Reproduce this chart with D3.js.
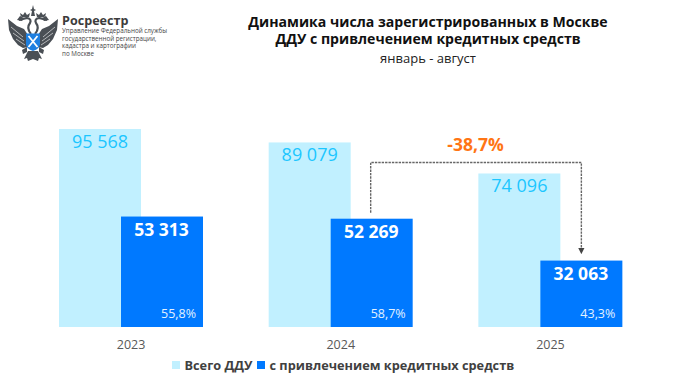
<!doctype html>
<html lang="ru">
<head>
<meta charset="utf-8">
<title>ДДУ Москва</title>
<script src="https://d3js.org/d3.v7.min.js"></script>
<style>
    html, body { margin: 0; padding: 0; background: #fff; }
    svg { display: block; }
    text { font-family: "Open Sans", sans-serif; }
</style>
</head>
<body>
<svg width="680" height="383"></svg>
<script>
    var years = ["2023", "2024", "2025"];
    var totalDdu = [95568, 89079, 74096];
    var creditDdu = [53313, 52269, 32063];
    var totalLabels = ["95 568", "89 079", "74 096"];
    var creditLabels = ["53 313", "52 269", "32 063"];
    var shareLabels = ["55,8%", "58,7%", "43,3%"];
    var legendLabels = ["Всего ДДУ", "с привлечением кредитных средств"];
    var logoLines = ["Управление Федеральной службы", "государственной регистрации,", "кадастра и картографии", "по Москве"];

    var lightBlue = "#c1f0ff", blue = "#0079ff", cyanText = "#1cc6ff";

    var svg = d3.select("svg");
    var baseY = 327, barW = 82, offset = 62;

    var x = d3.scaleBand().domain(years).range([59, 622.5]).paddingInner(0.3126).paddingOuter(0);
    var y = d3.scaleLinear().domain([0, 95568]).range([baseY, 129]);

    // bars
    var g = svg.append("g");
    g.selectAll(".total").data(years).enter().append("rect")
        .attr("class", "total")
        .attr("x", function(d) { return x(d); })
        .attr("y", function(d, i) { return y(totalDdu[i]); })
        .attr("width", barW)
        .attr("height", function(d, i) { return baseY - y(totalDdu[i]); })
        .attr("fill", lightBlue);

    g.selectAll(".credit").data(years).enter().append("rect")
        .attr("class", "credit")
        .attr("x", function(d) { return x(d) + offset; })
        .attr("y", function(d, i) { return y(creditDdu[i]); })
        .attr("width", barW)
        .attr("height", function(d, i) { return baseY - y(creditDdu[i]); })
        .attr("fill", blue);

    // bar labels
    g.selectAll(".totalLabel").data(years).enter().append("text")
        .attr("x", function(d) { return x(d) + barW / 2; })
        .attr("y", function(d, i) { return y(totalDdu[i]) + 18.5; })
        .attr("text-anchor", "middle")
        .attr("font-size", "18px")
        .attr("fill", cyanText)
        .text(function(d, i) { return totalLabels[i]; });

    g.selectAll(".creditLabel").data(years).enter().append("text")
        .attr("x", function(d) { return x(d) + offset + barW / 2 - 0.5; })
        .attr("y", function(d, i) { return y(creditDdu[i]) + 19; })
        .attr("text-anchor", "middle")
        .attr("font-size", "17.5px")
        .attr("font-weight", 700)
        .attr("fill", "#fff")
        .text(function(d, i) { return creditLabels[i]; });

    g.selectAll(".shareLabel").data(years).enter().append("text")
        .attr("x", function(d) { return x(d) + offset + barW - 7; })
        .attr("y", baseY - 9)
        .attr("text-anchor", "end")
        .attr("font-size", "12.5px")
        .attr("fill", "#e3f2ff")
        .text(function(d, i) { return shareLabels[i]; });

    // x axis
    var axis = svg.append("g")
        .attr("transform", "translate(0," + baseY + ")")
        .call(d3.axisBottom(x).tickSize(0).tickPadding(13));
    axis.select(".domain").remove();
    axis.selectAll("text")
        .attr("font-family", "Open Sans")
        .attr("font-size", "12.5px")
        .attr("fill", "#595959");

    // change arrow
    var defs = svg.append("defs");
    defs.append("marker")
        .attr("id", "head")
        .attr("viewBox", "0 0 6 6")
        .attr("refX", 4).attr("refY", 3)
        .attr("markerWidth", 4.5).attr("markerHeight", 4.5)
        .attr("orient", "auto")
        .append("path").attr("d", "M0,0L6,3L0,6Z").attr("fill", "#444");

    var ax = x("2024") + offset + barW / 2 - 1;
    var bx = x("2025") + offset + barW / 2;
    var topY = 162.5;
    svg.append("path")
        .attr("d", "M" + ax + "," + (y(creditDdu[1]) - 6) + "V" + topY + "H" + bx + "V" + (y(creditDdu[2]) - 8.5))
        .attr("fill", "none")
        .attr("stroke", "#666")
        .attr("stroke-width", 1.4)
        .attr("stroke-dasharray", "2.4 1")
        .attr("marker-end", "url(#head)");

    svg.append("text")
        .attr("x", 475.5)
        .attr("y", 151)
        .attr("text-anchor", "middle")
        .attr("font-size", "17.5px")
        .attr("font-weight", 700)
        .attr("fill", "#ff7514")
        .text("-38,7%");

    // title
    var title = svg.append("g").attr("text-anchor", "middle").attr("fill", "#111");
    title.append("text").attr("x", 428).attr("y", 27).attr("font-size", "14.1px").attr("font-weight", 700)
        .text("Динамика числа зарегистрированных в Москве");
    title.append("text").attr("x", 428).attr("y", 44).attr("font-size", "14.1px").attr("font-weight", 700)
        .text("ДДУ с привлечением кредитных средств");
    title.append("text").attr("x", 428).attr("y", 63).attr("font-size", "13px").attr("fill", "#222")
        .text("январь - август");

    // legend
    var legend = svg.append("g");
    legend.append("rect").attr("x", 172).attr("y", 361).attr("width", 8).attr("height", 8).attr("fill", lightBlue);
    legend.append("text").attr("x", 184.5).attr("y", 369.5).attr("font-size", "12.75px").attr("font-weight", 700)
        .attr("fill", "#404040").text(legendLabels[0]);
    legend.append("rect").attr("x", 257).attr("y", 361).attr("width", 8).attr("height", 8).attr("fill", blue);
    legend.append("text").attr("x", 269.5).attr("y", 369.5).attr("font-size", "12.75px").attr("font-weight", 700)
        .attr("fill", "#404040").text(legendLabels[1]);

    // logo text
    var logo = svg.append("g");
    logo.append("text").attr("x", 62).attr("y", 24.5).attr("font-size", "12.6px").attr("font-weight", 700)
        .attr("fill", "#3c3c3c").text("Росреестр");
    logo.selectAll(".logoLine").data(logoLines).enter().append("text")
        .attr("x", 62)
        .attr("y", function(d, i) { return 33.2 + i * 7.6; })
        .attr("font-size", "6.25px")
        .attr("fill", "#444")
        .text(function(d) { return d; });

    // emblem, rough eagle: left half drawn twice, mirrored round x=33
    var dark = "#4a4f55";
    function half(h) {
        h.append("path").attr("fill", dark)
            .attr("d", "M8,19 L17,26 L24,29 L28,35 L28,47 L23,48 L18,45 L13,39 L9,30 Z");
        h.append("path").attr("fill", "none").attr("stroke", "#fff").attr("stroke-width", 0.6)
            .attr("d", "M11,27 L23,37 M13,33 L24,41 M16,39 L25,45");
        h.append("path").attr("fill", "none").attr("stroke", dark).attr("stroke-width", 2.2)
            .attr("d", "M31,34 Q26,28 30,23 Q32,19 27,18 L19,20");
        h.append("path").attr("fill", dark)
            .attr("d", "M17,20 L22,21 L24,18 L20,16 Z M21,17 L20,13 L23,15 L25,12 L27,15 L30,13 L29,17 Z");
        h.append("path").attr("fill", dark)
            .attr("d", "M33,51 L28,51 L24,59 L27,58 L28,61 L33,59 Z M27,47 L22,50 L23,54 L27,52 Z");
    }
    var eagle = svg.append("g");
    eagle.append("g").call(half);
    eagle.append("g").attr("transform", "translate(66,0) scale(-1,1)").call(half);
    eagle.append("path").attr("fill", dark)
        .attr("d", "M33,5 L34,9 L36,10 L34,11 L35,16 L31,16 L32,11 L30,10 L32,9 Z");
    eagle.append("path").attr("d", "M26,33.5 H40 V44 Q40,48.5 33,51 Q26,48.5 26,44 Z").attr("fill", "#1e7fe0");
    eagle.append("path").attr("d", "M28.5,36 L37.5,47 M37.5,36 L28.5,47").attr("stroke", "#fff").attr("stroke-width", 1.8);
</script>
</body>
</html>
